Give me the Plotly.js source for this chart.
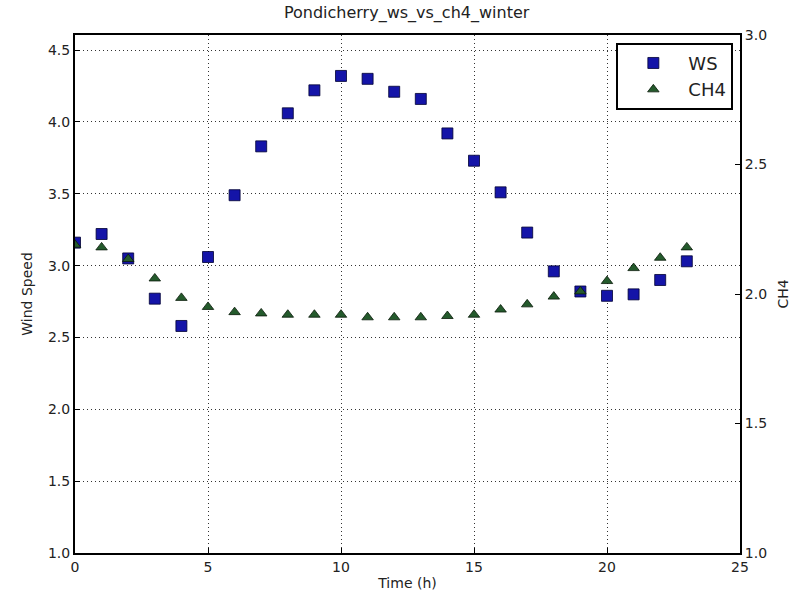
<!DOCTYPE html>
<html>
<head>
<meta charset="utf-8">
<script src="https://cdn.plot.ly/plotly-3.0.1.min.js"></script>
<style>html,body{margin:0;padding:0;background:#fff;}#chart{width:810px;height:600px;}</style>
</head>
<body>
<div id="chart"></div>
<script>
const hours = [0,1,2,3,4,5,6,7,8,9,10,11,12,13,14,15,16,17,18,19,20,21,22,23];
const windSpeed = [3.16,3.22,3.05,2.77,2.58,3.06,3.49,3.83,4.06,4.22,4.32,4.30,4.21,4.16,3.92,3.73,3.51,3.23,2.96,2.82,2.79,2.80,2.90,3.03];
const ch4 = [2.19,2.18,2.135,2.06,1.985,1.95,1.93,1.925,1.92,1.92,1.92,1.91,1.91,1.91,1.915,1.92,1.94,1.96,1.99,2.01,2.05,2.10,2.14,2.18];
const xTicks = [0,5,10,15,20,25];
const leftTicks = [1.0,1.5,2.0,2.5,3.0,3.5,4.0,4.5];
const rightTicks = [1.0,1.5,2.0,2.5,3.0];

const font = {family: 'DejaVu Sans, sans-serif', size: 14, color: '#222'};

const traces = [
  {x: hours, y: windSpeed, name: 'WS', type: 'scatter', mode: 'markers', yaxis: 'y',
   cliponaxis: true,
   marker: {symbol: 'square', size: 11, color: '#1414a8', line: {color: '#000033', width: 0.8}}},
  {x: hours, y: ch4, name: 'CH4', type: 'scatter', mode: 'markers', yaxis: 'y2',
   cliponaxis: true,
   marker: {symbol: 'triangle-up', size: 10, color: '#245a2c', line: {color: '#0a1a0a', width: 0.8}}}
];

const layout = {
  width: 810, height: 600,
  margin: {l: 75, r: 70, t: 35, b: 47},
  paper_bgcolor: '#fff', plot_bgcolor: '#fff',
  font: font,
  title: {text: 'Pondicherry_ws_vs_ch4_winter', font: {family: 'DejaVu Sans, sans-serif', size: 16, color: '#222'}, x: 0.502, xanchor: 'center', y: 0.988, yanchor: 'top'},
  xaxis: {range: [0, 25], tickvals: xTicks, ticktext: xTicks.map(String), ticks: 'inside', ticklen: 5, tickcolor: '#000',
    showline: true, linecolor: '#000', linewidth: 2, mirror: true,
    showgrid: true, gridcolor: '#333', griddash: '1px,3px', gridwidth: 1, zeroline: false,
    title: {text: 'Time (h)', font: font, standoff: 4}},
  yaxis: {range: [1.0, 4.605], tickvals: leftTicks, ticktext: leftTicks.map(v => v.toFixed(1)), ticks: 'inside', ticklen: 5, tickcolor: '#000',
    showline: true, linecolor: '#000', linewidth: 2,
    showgrid: true, gridcolor: '#333', griddash: '1px,3px', gridwidth: 1, zeroline: false,
    title: {text: 'Wind Speed', font: font, standoff: 12}},
  yaxis2: {range: [1.0, 3.0], overlaying: 'y', side: 'right', tickvals: rightTicks, ticktext: rightTicks.map(v => v.toFixed(1)),
    ticks: 'inside', ticklen: 5, tickcolor: '#000',
    showline: true, linecolor: '#000', linewidth: 2, showgrid: false, zeroline: false,
    title: {text: 'CH4', font: font, standoff: 12}},
  legend: {x: 0.99, y: 0.985, xanchor: 'right', yanchor: 'top', bgcolor: '#fff', bordercolor: '#000', borderwidth: 2,
    font: {family: 'DejaVu Sans, sans-serif', size: 18, color: '#222'}, itemwidth: 60, tracegroupgap: 4},
  showlegend: true
};

Plotly.newPlot('chart', traces, layout, {displayModeBar: false, staticPlot: true});
</script>
</body>
</html>
